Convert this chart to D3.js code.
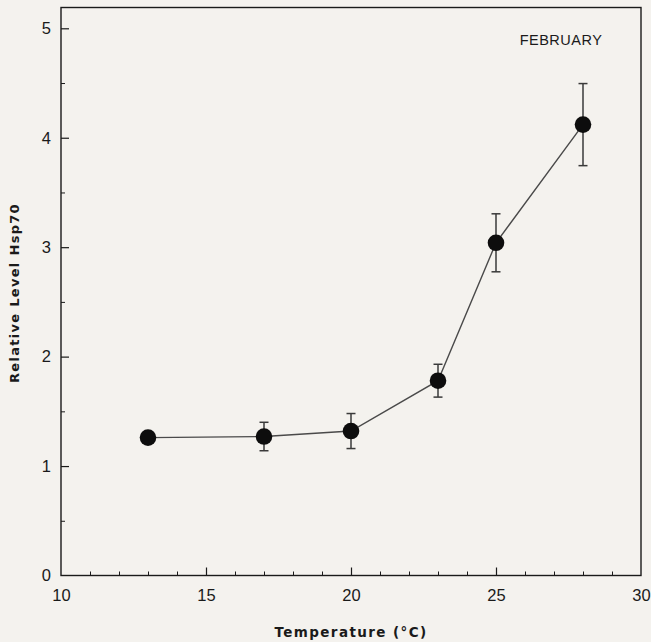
<!DOCTYPE html>
<html>
<head>
<meta charset="utf-8">
<script src="https://cdn.jsdelivr.net/npm/d3@7"></script>
<style>
  html, body { margin: 0; padding: 0; background: #f4f2ee; }
  svg { display: block; }
</style>
</head>
<body>
<svg id="chart" width="651" height="642"></svg>
<script>
const temperatures = [13, 17, 20, 23, 25, 28];
const hspLevels    = [1.26, 1.27, 1.32, 1.78, 3.04, 4.12];
const errors       = [0, 0.13, 0.16, 0.15, 0.265, 0.375];
const xTicks = [10, 15, 20, 25, 30];
const yTicks = [0, 1, 2, 3, 4, 5];
const annotation = "FEBRUARY";
const xTitle = "Temperature (°C)";
const yTitle = "Relative Level Hsp70";

const svg = d3.select("#chart");
const x = d3.scaleLinear().domain([10, 30]).range([61, 641]);
const y = d3.scaleLinear().domain([0, 5]).range([575.5, 28.3]);
const yTop = y(5.19);

const ink = "#1a1a1a";
const labelFont = "'Liberation Sans', Arial, sans-serif";

// frame
svg.append("rect")
  .attr("x", x(10)).attr("y", yTop)
  .attr("width", x(30) - x(10)).attr("height", y(0) - yTop)
  .attr("fill", "none").attr("stroke", ink).attr("stroke-width", 1.4);

// minor ticks
const xMinor = d3.range(11, 30).filter(v => v % 5 !== 0);
svg.append("g").attr("transform", `translate(0,${y(0)})`)
  .call(d3.axisBottom(x).tickValues(xMinor).tickSize(-4).tickFormat(""))
  .call(g => g.select(".domain").remove())
  .call(g => g.selectAll("line").attr("stroke", ink).attr("stroke-width", 1));
const yMinor = d3.range(0.5, 5, 1);
svg.append("g").attr("transform", `translate(${x(10)},0)`)
  .call(d3.axisLeft(y).tickValues(yMinor).tickSize(-4).tickFormat(""))
  .call(g => g.select(".domain").remove())
  .call(g => g.selectAll("line").attr("stroke", ink).attr("stroke-width", 1));

// major axes
const xAxis = svg.append("g").attr("transform", `translate(0,${y(0)})`)
  .call(d3.axisBottom(x).tickValues(xTicks).tickSizeInner(-8).tickSizeOuter(0).tickPadding(14).tickFormat(d3.format("d")))
  .call(g => g.select(".domain").remove());
xAxis.selectAll("line").attr("stroke", ink).attr("stroke-width", 1.2)
  .filter(d => d === 10 || d === 30).remove();
xAxis.selectAll("text").attr("font-family", labelFont).attr("font-size", 16.5).attr("fill", ink);

const yAxis = svg.append("g").attr("transform", `translate(${x(10)},0)`)
  .call(d3.axisLeft(y).tickValues(yTicks).tickSizeInner(-8).tickSizeOuter(0).tickPadding(10).tickFormat(d3.format("d")))
  .call(g => g.select(".domain").remove());
yAxis.selectAll("line").attr("stroke", ink).attr("stroke-width", 1.2)
  .filter(d => d === 0).remove();
yAxis.selectAll("text").attr("font-family", labelFont).attr("font-size", 16.5).attr("fill", ink);

// data
const data = temperatures.map((t, i) => ({ t, v: hspLevels[i], e: errors[i] }));

svg.append("path").datum(data)
  .attr("fill", "none").attr("stroke", "#4a4a4a").attr("stroke-width", 1.4)
  .attr("d", d3.line().x(d => x(d.t)).y(d => y(d.v)));

const eb = svg.append("g").attr("stroke", "#3a3a3a").attr("stroke-width", 1.5);
data.filter(d => d.e > 0).forEach(d => {
  eb.append("line").attr("x1", x(d.t)).attr("x2", x(d.t)).attr("y1", y(d.v - d.e)).attr("y2", y(d.v + d.e));
  [d.v - d.e, d.v + d.e].forEach(v => {
    eb.append("line").attr("x1", x(d.t) - 4.5).attr("x2", x(d.t) + 4.5).attr("y1", y(v)).attr("y2", y(v));
  });
});

svg.append("g").selectAll("circle").data(data).join("circle")
  .attr("cx", d => x(d.t)).attr("cy", d => y(d.v)).attr("r", 8.3)
  .attr("fill", "#0d0d0d");

// texts
svg.append("text").attr("x", 561).attr("y", 45).attr("text-anchor", "middle")
  .attr("font-family", labelFont).attr("font-size", 14.5).attr("fill", ink).attr("letter-spacing", 0.5)
  .text(annotation);

svg.append("text").attr("x", 351).attr("y", 637).attr("text-anchor", "middle")
  .attr("font-family", "'DejaVu Sans', sans-serif").attr("font-weight", "bold").attr("font-size", 13.5)
  .attr("letter-spacing", 1.4).attr("fill", ink).text(xTitle);

svg.append("text").attr("transform", "translate(19,293) rotate(-90)").attr("text-anchor", "middle")
  .attr("font-family", "'DejaVu Sans', sans-serif").attr("font-weight", "bold").attr("font-size", 13)
  .attr("letter-spacing", 1.3).attr("fill", ink).text(yTitle);
</script>
</body>
</html>
